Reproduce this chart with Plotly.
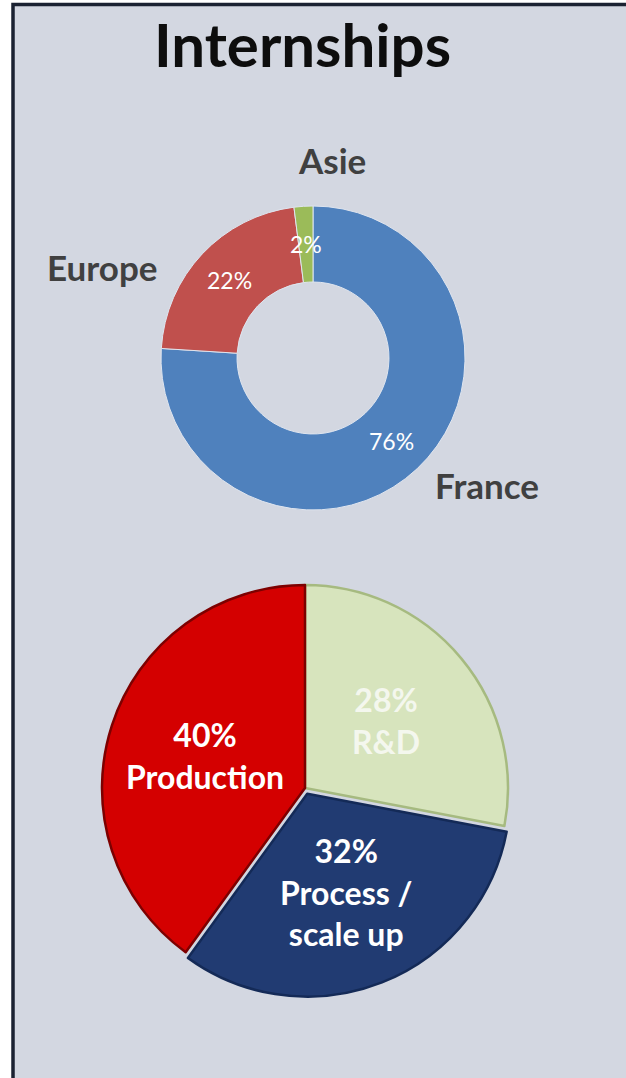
import math
import plotly.graph_objects as go

W, H = 626, 1078

# ---- data ----
region_labels = ["France", "Europe", "Asie"]
region_values = [76, 22, 2]
region_colors = ["#4f81bd", "#c0504d", "#9bbb59"]

sector_labels = ["R&D", "Process /<br>scale up", "Production"]
sector_values = [28, 32, 40]
sector_colors = ["#d7e4bd", "#213b72", "#d40000"]
sector_line_colors = ["#a6ba80", "#142a57", "#7d0000"]
sector_text_colors = ["#f4f7ee", "white", "white"]
sector_pull = [0, 0.03, 0]

title_text = "Internships"

# ---- geometry (pixels) ----
d_cx, d_cy, d_r = 313, 358, 152
p_cx, p_cy, p_r = 305, 788, 203


def px(x):
    return x / W


def py(y):
    return 1 - y / H


def domain(cx, cy, r, pull=0.0):
    h = r * (1 + pull)
    return dict(x=[px(cx - h), px(cx + h)], y=[py(cy + h), py(cy - h)])


fig = go.Figure()

fig.add_trace(go.Pie(
    labels=region_labels, values=region_values, hole=0.5,
    sort=False, direction="clockwise", rotation=0,
    marker=dict(colors=region_colors, line=dict(color="#dfe5ef", width=1)),
    textinfo="none", hoverinfo="label+percent",
    domain=domain(d_cx, d_cy, d_r), showlegend=False,
))

maxpull = max(sector_pull)
fig.add_trace(go.Pie(
    labels=sector_labels, values=sector_values,
    sort=False, direction="clockwise", rotation=0, pull=sector_pull,
    marker=dict(colors=sector_colors, line=dict(color=sector_line_colors, width=2.5)),
    textinfo="none", hoverinfo="label+percent",
    domain=domain(p_cx, p_cy, p_r, maxpull), showlegend=False,
))

annotations = []


def mid_angles(values):
    tot = sum(values)
    acc = 0
    out = []
    for v in values:
        out.append((acc + v / 2) / tot * 2 * math.pi)
        acc += v
    return out


# donut percentage labels
tot = sum(region_values)
for v, a in zip(region_values, mid_angles(region_values)):
    rr = d_r * 0.75
    x = d_cx + rr * math.sin(a)
    y = d_cy - rr * math.cos(a)
    annotations.append(dict(
        x=px(x), y=py(y), xref="paper", yref="paper", showarrow=False,
        text=f"{round(v / tot * 100)}%",
        font=dict(family="Lato", size=23, color="white"),
        xanchor="center", yanchor="middle",
    ))

# donut category labels (outside)
outside_pos = {"Asie": (332, 160), "Europe": (102, 267), "France": (487, 485)}
for lab in region_labels:
    x, y = outside_pos[lab]
    annotations.append(dict(
        x=px(x), y=py(y), xref="paper", yref="paper", showarrow=False,
        text=f"<b>{lab}</b>",
        font=dict(family="Lato", size=35, color="#404040"),
        xanchor="center", yanchor="middle",
    ))

# pie labels
tot2 = sum(sector_values)
for lab, v, a, pl, tc in zip(sector_labels, sector_values, mid_angles(sector_values),
                             sector_pull, sector_text_colors):
    cx = p_cx + pl * p_r * math.sin(a)
    cy = p_cy - pl * p_r * math.cos(a)
    rr = p_r * 0.52
    x = cx + rr * math.sin(a)
    y = cy - rr * math.cos(a)
    annotations.append(dict(
        x=px(x), y=py(y), xref="paper", yref="paper", showarrow=False,
        text=f"<b>{round(v / tot2 * 100)}%<br>{lab}</b>",
        font=dict(family="Lato", size=32, color=tc),
        xanchor="center", yanchor="middle", align="center",
    ))

# title
annotations.append(dict(
    x=px(302), y=py(44), xref="paper", yref="paper", showarrow=False,
    text=f"<b>{title_text}</b>",
    font=dict(family="Lato", size=60, color="#0d0d0d"),
    xanchor="center", yanchor="middle",
))

shapes = [dict(
    type="rect", xref="paper", yref="paper",
    x0=px(13), x1=px(W + 20), y0=py(H + 20), y1=py(4.5),
    fillcolor="#d3d7e1", line=dict(color="#1b2232", width=3.5), layer="below",
)]

fig.update_layout(
    width=W, height=H,
    margin=dict(l=0, r=0, t=0, b=0),
    paper_bgcolor="white", plot_bgcolor="white",
    annotations=annotations, shapes=shapes,
    showlegend=False,
)

fig.write_html(
    "out.html",
    config={"displayModeBar": False},
    post_script="document.body.style.margin='0';document.body.style.overflow='hidden';",
)
